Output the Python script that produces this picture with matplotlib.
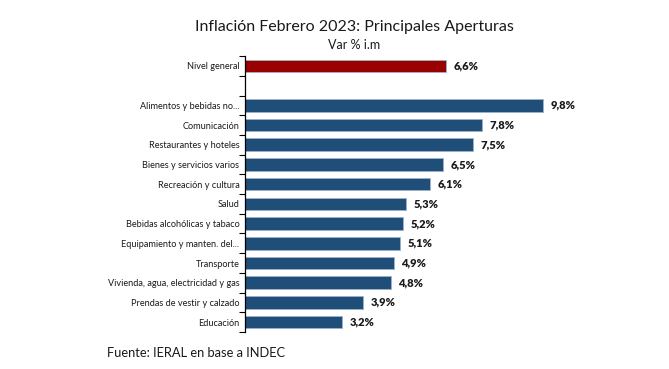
import numpy as np
import matplotlib.pyplot as plt

plt.rcParams['font.family'] = ['Lato', 'DejaVu Sans']

# data (top to bottom)
categories = ["Nivel general", "",
              "Alimentos y bebidas no...", "Comunicación", "Restaurantes y hoteles",
              "Bienes y servicios varios", "Recreación y cultura", "Salud",
              "Bebidas alcohólicas y tabaco", "Equipamiento y manten. del...",
              "Transporte", "Vivienda, agua, electricidad y gas",
              "Prendas de vestir y calzado", "Educación"]
values = [6.6, np.nan, 9.8, 7.8, 7.5, 6.5, 6.1, 5.3, 5.2, 5.1, 4.9, 4.8, 3.9, 3.2]
labels = ["6,6%", "", "9,8%", "7,8%", "7,5%", "6,5%", "6,1%", "5,3%", "5,2%",
          "5,1%", "4,9%", "4,8%", "3,9%", "3,2%"]

colors = ["#990000" if c == "Nivel general" else "#1F4E79" for c in categories]

fig = plt.figure(figsize=(6.69, 3.69), dpi=100)
ax = fig.add_axes([0.366, 0.1003, 0.5, 0.7477])

y = np.arange(len(categories))
vals = np.nan_to_num(np.array(values, dtype=float))
ax.barh(y, vals, height=0.64, color=colors, edgecolor="#9DB3CC", linewidth=0.6)

for yi, v, lab in zip(y, vals, labels):
    if lab:
        ax.annotate(lab, xy=(v, yi), xytext=(5.5, 0), textcoords="offset points",
                    va="center", ha="left", fontsize=8, fontweight="heavy",
                    color="#1a1a1a")

ax.set_xlim(0, 11)
ax.set_ylim(len(categories) - 0.5, -0.5)
ax.set_yticks(y)
ax.set_yticklabels(categories, fontsize=6.6, color="#1a1a1a")
ax.set_yticks(np.arange(len(categories) + 1) - 0.5, minor=True)
ax.tick_params(axis="y", which="major", length=0, pad=4)
ax.tick_params(axis="y", which="minor", length=4, width=0.8, color="black")
ax.set_xticks([])
for s in ["top", "right", "bottom"]:
    ax.spines[s].set_visible(False)
ax.spines["left"].set_linewidth(0.9)

fig.text(0.53, 0.927, "Inflación Febrero 2023: Principales Aperturas",
         ha="center", va="center", fontsize=11.5, color="#1a1a1a")
fig.text(0.53, 0.878, "Var % i.m", ha="center", va="center", fontsize=9,
         color="#1a1a1a")
fig.text(0.16, 0.043, "Fuente: IERAL en base a INDEC", ha="left", va="center",
         fontsize=9.3, color="#1a1a1a")

fig.savefig("out.png", dpi=100)
